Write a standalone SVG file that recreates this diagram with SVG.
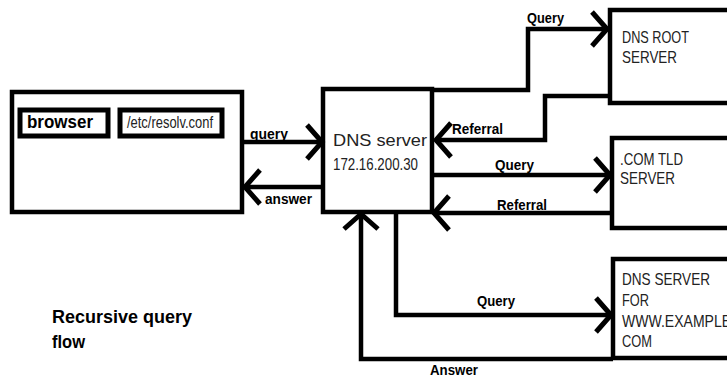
<svg xmlns="http://www.w3.org/2000/svg" width="727" height="380" viewBox="0 0 727 380">
  <style>
    .box { fill: #fff; stroke: #000; stroke-width: 4.5; }
    .inner { fill: #fff; stroke: #000; stroke-width: 5; }
    .wire { fill: none; stroke: #000; stroke-width: 4.5; stroke-linejoin: miter; marker-end: url(#chev); }
    .plain { fill: none; stroke: #000; stroke-width: 4.5; }
    .lbl { font-family: "Liberation Sans", Arial, sans-serif; font-weight: bold; font-size: 15px; fill: #000; }
    .node { font-family: "Liberation Sans", Arial, sans-serif; font-size: 17px; fill: #222; }
    .title { font-family: "Liberation Sans", Arial, sans-serif; font-weight: bold; font-size: 18px; fill: #000; }
  </style>
  <defs>
    <marker id="chev" viewBox="-20 -22 24 44" refX="0" refY="0" markerWidth="24" markerHeight="44" markerUnits="userSpaceOnUse" orient="auto" overflow="visible">
      <path d="M-15,-17 L0,0 L-15,17" fill="none" stroke="#000" stroke-width="5"/>
    </marker>
  </defs>
  <rect width="727" height="380" fill="#fff"/>

  <g id="browser">
    <rect class="box" x="12" y="92" width="230" height="120"/>
    <rect class="inner" x="20" y="110" width="88" height="26"/>
    <text class="title" x="27" y="128" font-size="17" textLength="66" lengthAdjust="spacingAndGlyphs">browser</text>
    <rect class="inner" x="120" y="110" width="102" height="26"/>
    <text class="node" x="127" y="128" font-size="15" fill="#000" textLength="86" lengthAdjust="spacingAndGlyphs">/etc/resolv.conf</text>
  </g>

  <g id="dns-server">
    <rect class="box" x="323" y="89" width="109" height="123"/>
    <text class="node" x="333" y="146" font-size="21" textLength="94" lengthAdjust="spacingAndGlyphs">DNS server</text>
    <text class="node" x="333" y="170" font-size="17" textLength="85" lengthAdjust="spacingAndGlyphs">172.16.200.30</text>
  </g>

  <g id="root-server">
    <rect class="box" x="610" y="10" width="130" height="93"/>
    <text class="node" x="622" y="43" textLength="67" lengthAdjust="spacingAndGlyphs">DNS ROOT</text>
    <text class="node" x="622" y="63" textLength="55" lengthAdjust="spacingAndGlyphs">SERVER</text>
  </g>

  <g id="tld-server">
    <rect class="box" x="612" y="138" width="130" height="90"/>
    <text class="node" x="620" y="165" textLength="63" lengthAdjust="spacingAndGlyphs">.COM TLD</text>
    <text class="node" x="620" y="184" textLength="55" lengthAdjust="spacingAndGlyphs">SERVER</text>
  </g>

  <g id="example-server">
    <rect class="box" x="613" y="259" width="130" height="99"/>
    <text class="node" x="622" y="285" textLength="88" lengthAdjust="spacingAndGlyphs">DNS SERVER</text>
    <text class="node" x="622" y="306" textLength="27" lengthAdjust="spacingAndGlyphs">FOR</text>
    <text class="node" x="622" y="327" textLength="113" lengthAdjust="spacingAndGlyphs">WWW.EXAMPLE.</text>
    <text class="node" x="622" y="347" textLength="30" lengthAdjust="spacingAndGlyphs">COM</text>
  </g>

  <g id="connectors">
    <path class="wire" d="M242,142 L322,142"/>
    <path class="wire" d="M325,187 L245,187"/>
    <path class="wire" d="M432,90 L528,90 L528,29 L607,29"/>
    <path class="wire" d="M610,96 L545,96 L545,140 L436,140"/>
    <path class="wire" d="M432,175 L610,175"/>
    <path class="wire" d="M612,213 L434,213"/>
    <path class="wire" d="M396,212 L396,315 L611,315"/>
    <path class="wire" d="M613,359 L361,359 L361,214"/>

    <text class="lbl" x="250" y="139" textLength="38" lengthAdjust="spacingAndGlyphs">query</text>
    <text class="lbl" x="265" y="204" textLength="47" lengthAdjust="spacingAndGlyphs">answer</text>
    <text class="lbl" x="527" y="23" textLength="37" lengthAdjust="spacingAndGlyphs">Query</text>
    <text class="lbl" x="452" y="134" textLength="51" lengthAdjust="spacingAndGlyphs">Referral</text>
    <text class="lbl" x="495" y="170" textLength="39" lengthAdjust="spacingAndGlyphs">Query</text>
    <text class="lbl" x="497" y="210" textLength="50" lengthAdjust="spacingAndGlyphs">Referral</text>
    <text class="lbl" x="477" y="306" textLength="38" lengthAdjust="spacingAndGlyphs">Query</text>
    <text class="lbl" x="430" y="375" textLength="48" lengthAdjust="spacingAndGlyphs">Answer</text>
  </g>

  <g id="caption">
    <text class="title" x="52" y="323" textLength="140" lengthAdjust="spacingAndGlyphs">Recursive query</text>
    <text class="title" x="52" y="348" textLength="33" lengthAdjust="spacingAndGlyphs">flow</text>
  </g>
</svg>
